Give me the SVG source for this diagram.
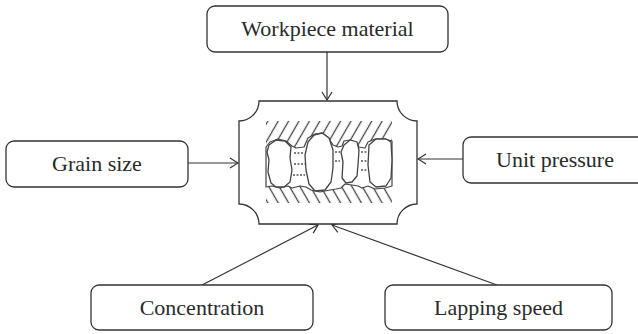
<svg xmlns="http://www.w3.org/2000/svg" width="638" height="334" viewBox="0 0 638 334">
  <defs>
    <style>
      .box { fill: #ffffff; stroke: #333333; stroke-width: 1.3; }
      .lbl { font-family: "Liberation Serif", "Times New Roman", serif; font-size: 22px; fill: #2a2a2a; text-anchor: middle; }
      .conn { stroke: #333333; stroke-width: 1.2; fill: none; marker-end: url(#arrow); }
      .edge { fill: #ffffff; stroke: #444444; stroke-width: 1.2; stroke-linejoin: round; }
      .grain { fill: #ffffff; stroke: #444444; stroke-width: 1.3; stroke-linejoin: round; }
      .fluid { stroke: #555555; stroke-width: 1.4; stroke-dasharray: 2 1.5; fill: none; }
    </style>
    <marker id="arrow" markerWidth="10" markerHeight="12" refX="9" refY="6" orient="auto" markerUnits="userSpaceOnUse">
      <path d="M1,1 L9,6 L1,11" fill="none" stroke="#333333" stroke-width="1.2"/>
    </marker>
    <pattern id="hatchUp" patternUnits="userSpaceOnUse" width="9" height="9" patternTransform="rotate(30)">
      <line x1="4.5" y1="0" x2="4.5" y2="9" stroke="#444444" stroke-width="1.3"/>
    </pattern>
    <pattern id="hatchDown" patternUnits="userSpaceOnUse" width="9" height="9" patternTransform="rotate(-30)">
      <line x1="4.5" y1="0" x2="4.5" y2="9" stroke="#444444" stroke-width="1.3"/>
    </pattern>
  </defs>

  <rect width="638" height="334" fill="#ffffff"/>

  <!-- connectors -->
  <g id="connectors">
    <line class="conn" x1="327" y1="52" x2="327" y2="100"/>
    <line class="conn" x1="188" y1="163" x2="238" y2="163"/>
    <line class="conn" x1="463" y1="159" x2="418" y2="159"/>
    <line class="conn" x1="202" y1="285" x2="318" y2="225"/>
    <line class="conn" x1="497" y1="285" x2="332" y2="225"/>
  </g>

  <!-- central lapping zone -->
  <g id="lapping-zone">
    <path class="box" d="M259,101 H397 A20,20 0 0 0 417,121 V204 A20,20 0 0 0 397,224 H259 A20,20 0 0 0 239,204 V121 A20,20 0 0 0 259,101 Z"/>
    <!-- lap surface (top) and workpiece (bottom) -->
    <rect x="266" y="121" width="126" height="30" fill="url(#hatchUp)"/>
    <rect x="266" y="182" width="126" height="21" fill="url(#hatchDown)"/>
    <!-- gap between the surfaces -->
    <path class="edge" d="M266,147 L270,142 L278,139 L286,141 L292,146 L296,148 L304,147 L308,138 L315,134 L322,133 L328,137 L333,145 L338,147 L342,146 L344,141 L350,140 L356,142 L359,147 L365,148 L368,142 L375,139 L385,139 L392,141 L392,186 L385,188 L375,189 L368,186 L362,188 L358,186 L352,185 L345,184 L341,188 L336,189 L330,190 L320,192 L311,190 L306,187 L300,186 L292,188 L288,186 L280,188 L272,186 L266,187 Z"/>
    <!-- abrasive grains -->
    <path class="grain" d="M269,145 L276,140 L285,141 L291,147 L290,158 L292,170 L290,182 L284,187 L276,187 L271,183 L268,172 L269,160 L267,152 Z"/>
    <path class="grain" d="M308,142 L314,135 L322,133 L329,138 L333,150 L333,168 L331,182 L325,190 L315,191 L309,184 L306,170 L305,155 Z"/>
    <path class="grain" d="M344,145 L350,140 L357,142 L359,150 L358,165 L357,176 L352,182 L346,183 L342,178 L343,162 L341,152 Z"/>
    <path class="grain" d="M369,145 L376,139 L386,139 L391,142 L392,160 L391,178 L386,186 L376,187 L370,182 L368,165 Z"/>
    <!-- lapping fluid -->
    <path class="fluid" d="M294,153 H304 M294,164 H305 M293,175 H305 M335,152 H340 M335,161 H340 M361,152 H367 M361,161 H367 M361,170 H367"/>
  </g>

  <g id="workpiece-material">
    <rect class="box" x="207" y="6" width="241" height="46" rx="8"/>
    <text class="lbl" x="327.5" y="36">Workpiece material</text>
  </g>

  <g id="grain-size">
    <rect class="box" x="6" y="141" width="182" height="46" rx="8"/>
    <text class="lbl" x="97" y="171">Grain size</text>
  </g>

  <g id="unit-pressure">
    <rect class="box" x="463" y="137" width="185" height="46" rx="8"/>
    <text class="lbl" x="555" y="167">Unit pressure</text>
  </g>

  <g id="concentration">
    <rect class="box" x="91" y="285" width="222" height="45" rx="8"/>
    <text class="lbl" x="202" y="315">Concentration</text>
  </g>

  <g id="lapping-speed">
    <rect class="box" x="385" y="285" width="227" height="45" rx="8"/>
    <text class="lbl" x="498.5" y="315">Lapping speed</text>
  </g>
</svg>
